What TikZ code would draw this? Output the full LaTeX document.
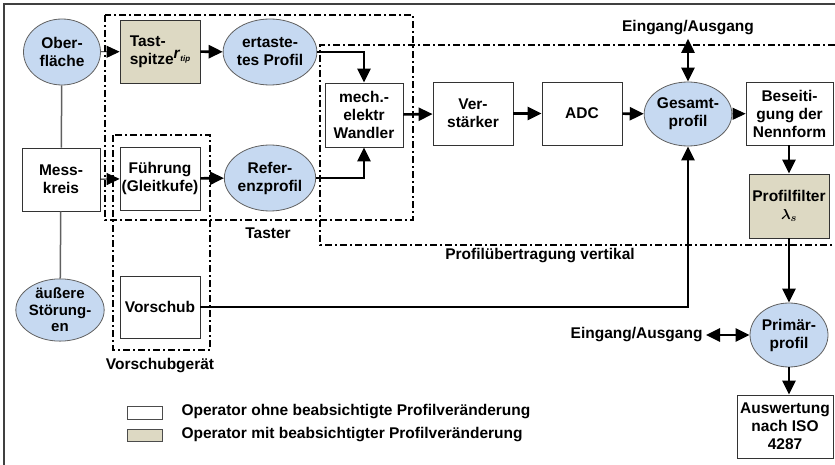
\documentclass[tikz,border=0pt]{standalone}
\usepackage{fontspec}
\usepackage{bm}
\setmainfont{Liberation Sans}
\usetikzlibrary{shapes.geometric,arrows.meta}

\definecolor{ovalblue}{HTML}{C6D9F1}
\definecolor{opsand}{HTML}{DDD9C3}
\definecolor{linegray}{HTML}{606060}

\tikzset{
  opbox/.style={draw=black!80, fill=white, line width=0.8pt, minimum width=80pt,
    minimum height=63pt, inner sep=0pt, align=center},
  sandbox/.style={opbox, fill=opsand},
  profil/.style={ellipse, draw=linegray, fill=ovalblue, line width=0.8pt,
    minimum width=78pt, minimum height=66pt, inner sep=0pt, align=center},
  signal/.style={-{Triangle[length=14pt,width=13pt]}, line width=2.6pt},
  feed/.style={-{Triangle[length=13pt,width=12pt,color=black]}, line width=0.9pt},
  twoway/.style={{Triangle[length=14pt,width=13pt]}-{Triangle[length=14pt,width=13pt]}, line width=2.6pt},
  unitframe/.style={dash pattern=on 7pt off 3pt on 2pt off 3pt, line width=1.6pt},
}

\begin{document}
\begin{tikzpicture}[every node/.style={font=\bfseries\fontsize{15.5}{18}\selectfont}, x=1pt, y=-1pt]

\useasboundingbox (0,0) rectangle (835,465);

% outer frame (open to the right and bottom)
\draw[black!75, line width=1.5pt] (4,465) -- (4,4) -- (835,4);

% functional units
\draw[unitframe] (105,15) rectangle (413,220);
\draw[unitframe] (113,135) rectangle (210,350);
\draw[unitframe] (835,45) -- (320,45) -- (320,245) -- (835,245);
\node (taster) at (268,233) {Taster};
\node (vgeraet) at (160,366) {Vorschubgerät};
\node (uebertr) at (540,256) {Profilübertragung vertikal};

% left column
\node[profil, minimum width=77pt] (ober) at (62,52) {Ober-\\fläche};
\node[opbox, minimum width=78pt] (mess) at (61,179.5) {Mess-\\kreis};
\node[profil, minimum width=74pt, minimum height=56pt,
  font=\bfseries\fontsize{15}{16.5}\selectfont] (stoer) at (60,310) {äußere\\Störung-\\en};
\draw[linegray, line width=1.5pt] (ober) -- (mess);
\draw[linegray, line width=1.5pt] (mess) -- (stoer);

% Taster
\node[sandbox, align=left] (spitze) at (160,51.5)
  {Tast-\\spitze\raisebox{6pt}{\textit{r}\raisebox{-3pt}{\fontsize{8}{8}\selectfont\textit{tip}}}};
\node[opbox] (fuehr) at (160,178.5) {Führung\\(Gleitkufe)};
\node[profil, minimum width=80pt] (ertast) at (270,52) {ertaste-\\tes Profil};
\node[profil] (referenz) at (270,178) {Refer-\\enzprofil};
\node[opbox, minimum width=78pt, minimum height=64pt] (wandler) at (364,115) {mech.-\\elektr\\Wandler};

\draw[feed] (ober) -- (spitze);
\draw[feed] (mess) -- (fuehr);
\draw[signal] (spitze) -- (ertast);
\draw[signal] (fuehr) -- (referenz);
\draw[signal] (ertast.east) -| (wandler.north);
\draw[signal] (referenz.east) -| (wandler.south);

% signal chain
\node[opbox] (verst) at (473,113.5) {Ver-\\stärker};
\node[opbox] (adc) at (582,113.5) {ADC};
\node[profil, minimum width=76pt, minimum height=64pt] (gesamt) at (688,114) {Gesamt-\\profil};
\node[opbox, minimum width=87pt] (beseit) at (789.5,113.5) {Beseiti-\\gung der\\Nennform};
\node[sandbox, minimum height=64pt] (filter) at (789,206) {Profilfilter\\$\bm{\lambda}_{\bm{s}}$};
\node[profil, minimum height=64pt] (prim) at (789,335) {Primär-\\profil};
\node[opbox, minimum width=96pt] (ausw) at (785,426.5) {Auswertung\\nach ISO\\4287};
\node (io1) at (688,28) {Eingang/Ausgang};
\node[anchor=east] (io2) at (706,335) {Eingang/Ausgang};

\draw[signal] (wandler) -- (verst);
\draw[signal] (verst) -- (adc);
\draw[signal] (adc) -- (gesamt);
\draw[feed, linegray] (gesamt) -- (beseit);
\draw[signal] (filter.north |- beseit.south) -- (filter.north);
\draw[signal] (filter.south) -- (prim.north);
\draw[signal] (prim.south) -- (prim.south |- ausw.north);
\draw[twoway] (io1.south) -- (gesamt.north);
\draw[twoway] (io2.east) -- (prim.west);

% feed unit
\node[opbox, minimum height=62pt] (vorschub) at (160,307) {Vorschub};
\draw[signal] (vorschub.east) -| (gesamt.south);

% legend
\node[draw=black!70, fill=white, minimum width=35pt, minimum height=13pt, inner sep=0pt] (keyplain) at (144.5,412.5) {};
\node[draw=black!70, fill=opsand, minimum width=35pt, minimum height=12pt, inner sep=0pt] (keysand) at (144.5,435) {};
\node[anchor=west] (keyplaintext) at (178,412) {Operator ohne beabsichtigte Profilveränderung};
\node[anchor=west] (keysandtext) at (178,435) {Operator mit beabsichtigter Profilveränderung};

\end{tikzpicture}
\end{document}
